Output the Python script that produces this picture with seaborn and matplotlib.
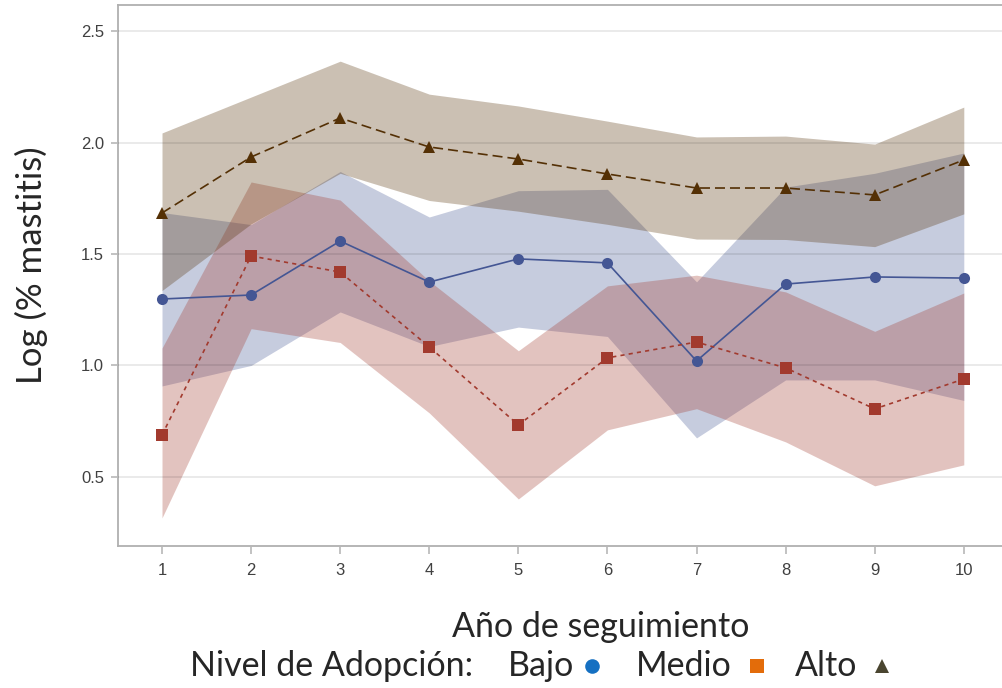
import numpy as np
import pandas as pd
import matplotlib
matplotlib.use("Agg")
import matplotlib.pyplot as plt
from matplotlib.lines import Line2D
import seaborn as sns

# datos
anios = [1, 2, 3, 4, 5, 6, 7, 8, 9, 10]
niveles = ["Bajo", "Medio", "Alto"]

bajo = [1.298, 1.316, 1.558, 1.374, 1.478, 1.460, 1.020, 1.365, 1.397, 1.392]
bajo_inf = [0.908, 1.000, 1.240, 1.085, 1.172, 1.130, 0.675, 0.935, 0.935, 0.843]
bajo_sup = [1.686, 1.632, 1.870, 1.666, 1.784, 1.790, 1.375, 1.800, 1.862, 1.953]

medio = [0.688, 1.491, 1.419, 1.083, 0.733, 1.034, 1.105, 0.989, 0.805, 0.939]
medio_inf = [0.316, 1.165, 1.103, 0.787, 0.401, 0.711, 0.806, 0.657, 0.460, 0.554]
medio_sup = [1.078, 1.823, 1.742, 1.379, 1.066, 1.357, 1.405, 1.330, 1.153, 1.325]

alto = [1.684, 1.935, 2.110, 1.980, 1.926, 1.859, 1.796, 1.796, 1.765, 1.922]
alto_inf = [1.336, 1.635, 1.862, 1.740, 1.692, 1.633, 1.567, 1.565, 1.533, 1.680]
alto_sup = [2.043, 2.204, 2.365, 2.217, 2.164, 2.096, 2.025, 2.029, 1.993, 2.159]

colores = {"Bajo": "#445694", "Medio": "#A23A2E", "Alto": "#543005"}

df = pd.DataFrame({
    "anio": anios * 3,
    "valor": bajo + medio + alto,
    "nivel": ["Bajo"] * 10 + ["Medio"] * 10 + ["Alto"] * 10,
})

sns.set_style("white")
plt.rcParams["font.family"] = ["Liberation Sans", "DejaVu Sans"]

fig = plt.figure(figsize=(10.03, 6.88), dpi=100)
ax = fig.add_axes([118 / 1003, 1 - 546 / 688, 1 - 118 / 1003, (546 - 5) / 688])

# bandas de confianza
for nivel, inf, sup in [("Bajo", bajo_inf, bajo_sup),
                        ("Medio", medio_inf, medio_sup),
                        ("Alto", alto_inf, alto_sup)]:
    ax.fill_between(anios, inf, sup, color=colores[nivel], alpha=0.3, linewidth=0, zorder=1)

sns.lineplot(data=df, x="anio", y="valor", hue="nivel", style="nivel",
             palette=colores, hue_order=niveles, style_order=niveles,
             markers={"Bajo": "o", "Medio": "s", "Alto": "^"},
             dashes={"Bajo": "", "Medio": (2.5, 2.5), "Alto": (6, 3)},
             markersize=8, linewidth=1.2, markeredgewidth=0,
             legend=False, ax=ax, zorder=3)

ax.set_xlim(0.506, 10.44)
ax.set_ylim(0.19, 2.617)
ax.set_xticks(anios)
ax.set_yticks([0.5, 1.0, 1.5, 2.0, 2.5])
ax.set_yticklabels(["0.5", "1.0", "1.5", "2.0", "2.5"])
ax.set_axisbelow(False)
ax.grid(axis="y", color="black", alpha=0.09, linewidth=1.3)
ax.grid(axis="x", visible=False)
ax.tick_params(axis="both", bottom=True, left=True, colors="#B8B8B8", labelcolor="#404040",
               labelsize=12, length=6, width=1.2, direction="out", pad=6)
ax.tick_params(axis="y", length=5, pad=5)
for s in ["left", "bottom", "top"]:
    ax.spines[s].set_color("#B0B0B0")
    ax.spines[s].set_linewidth(1.3)
ax.spines["right"].set_visible(False)
ax.set_xlabel("")
ax.set_ylabel("")

fuente = ["Lato", "DejaVu Sans"]
fig.text(31 / 1003, 1 - 265 / 688, "Log (% mastitis)", rotation=90,
         ha="center", va="center", fontsize=25, family=fuente)
fig.text(601 / 1003, 1 - 627 / 688, "Año de seguimiento",
         ha="center", va="center", fontsize=24.5, family=fuente)
fig.text(190 / 1003, 1 - 666 / 688, "Nivel de Adopción:",
         ha="left", va="center", fontsize=24.5, family=fuente)

# leyenda manual: texto y marcador a la derecha
leyenda = [("Bajo", 508, 592, "o", "#1570C2"),
           ("Medio", 636, 757, "s", "#E36C0A"),
           ("Alto", 795, 882, "^", "#4A4530")]
for texto, xt, xm, marca, color in leyenda:
    fig.text(xt / 1003, 1 - 666 / 688, texto, ha="left", va="center",
             fontsize=24.5, family=fuente)
    fig.add_artist(Line2D([xm / 1003], [1 - 666 / 688], marker=marca, color=color,
                          linestyle="none", markersize=10.5, markeredgewidth=0,
                          transform=fig.transFigure))

fig.savefig("out.png", dpi=100)
